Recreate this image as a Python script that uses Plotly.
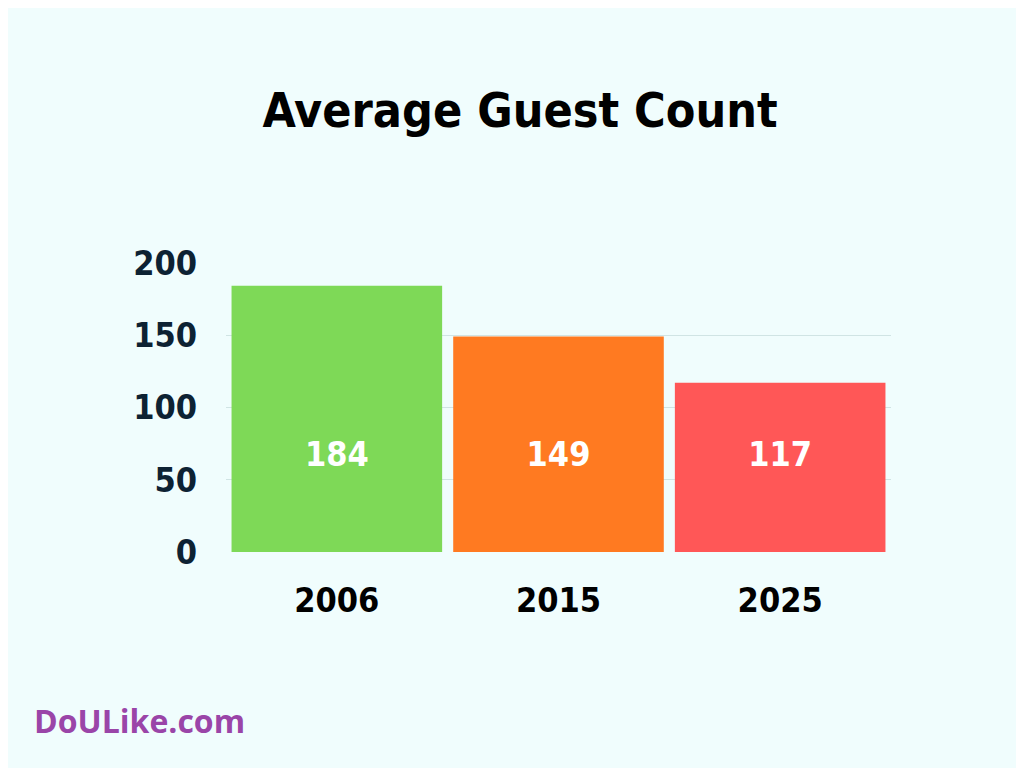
import plotly.graph_objects as go

years = ["2006", "2015", "2025"]
guests = [184, 149, 117]
colors = ["#7ed957", "#ff7a21", "#ff5757"]
ytick_vals = [0, 50, 100, 150, 200]
label_y = [65, 65, 65]

F = "DejaVu Sans Condensed"
fig = go.Figure(go.Bar(x=years, y=guests, marker=dict(color=colors, line=dict(width=0)), hoverinfo="skip"))
fig.add_trace(go.Scatter(x=years, y=label_y, mode="text", text=[str(v) for v in guests],
                         textfont=dict(family=F, size=34, color="white", weight="bold")))
fig.update_layout(
    width=1024, height=768, paper_bgcolor="#f0fdfd", plot_bgcolor="#f0fdfd",
    margin=dict(l=218, r=141, t=254, b=224), bargap=0.05, showlegend=False,
    title=dict(text="Average Guest Count", x=0.5, xanchor="center", y=0.867, yanchor="middle",
               font=dict(family=F, size=48, color="black", weight="bold")),
    xaxis=dict(type="category", range=[-0.5, 2.5], tickfont=dict(family=F, size=34, color="black", weight="bold"),
               ticklabelstandoff=25, showgrid=False, zeroline=False),
    yaxis=dict(range=[0, 200.5], tickvals=ytick_vals, showgrid=True, gridcolor="#d0e4e4",
               zeroline=False, ticklabelstandoff=28,
               tickfont=dict(family=F, size=34, color="#0d2233", weight="bold")),
)
fig.add_annotation(x=-0.291, y=-0.581, xref="paper", yref="paper", showarrow=False,
                   xanchor="left", yanchor="middle", text="DoULike.com",
                   font=dict(family="Open Sans", size=32, color="#9a45a8", weight="bold"))
fig.write_html("out.html")
